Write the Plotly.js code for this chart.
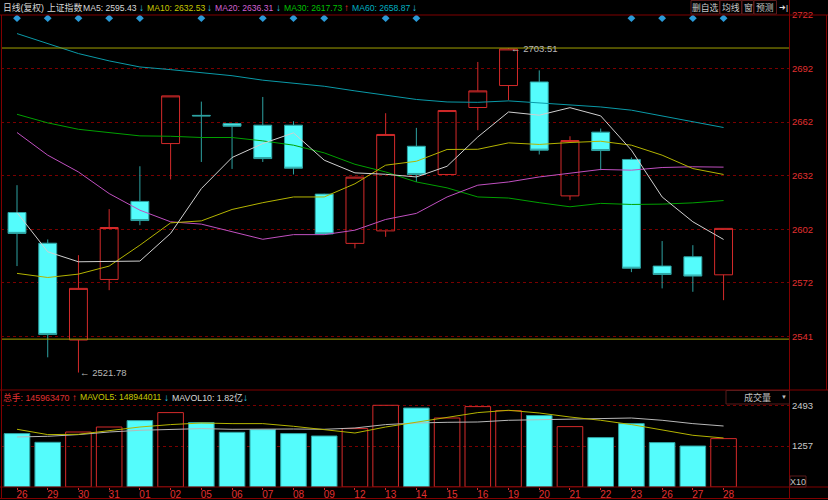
<!DOCTYPE html>
<html>
<head>
<meta charset="utf-8">
<script src="https://cdn.plot.ly/plotly-3.0.1.min.js"></script>
<style>
html,body{margin:0;padding:0;background:#000;}
#chart{width:828px;height:500px;}
</style>
</head>
<body>
<div id="chart"></div>
<script>
// ---------- data ----------
const dates = ['26','29','30','31','01','02','05','06','07','08','09','12','13','14','15','16','19','20','21','22','23','26','27','28'];
const openP  = [2611.4,2594.2,2540.0,2573.9,2617.6,2650.0,2665.8,2661.2,2660.3,2660.3,2621.7,2594.1,2601.1,2648.5,2632.7,2670.2,2682.5,2684.5,2620.7,2656.4,2641.1,2581.4,2586.6,2576.5];
const highP  = [2626.7,2596.3,2587.5,2613.3,2637.3,2676.7,2673.5,2661.2,2676.1,2662.5,2621.9,2631.4,2667.0,2658.8,2668.5,2695.7,2703.51,2691.0,2654.1,2658.4,2642.2,2595.4,2593.1,2602.5];
const lowP   = [2581.4,2530.3,2521.78,2567.9,2604.3,2629.9,2639.7,2635.8,2639.7,2632.7,2599.2,2591.3,2597.8,2628.5,2632.5,2657.5,2674.3,2643.9,2618.3,2635.1,2578.0,2568.9,2567.0,2562.3];
const closeP = [2599.7,2543.1,2568.9,2603.0,2606.9,2676.7,2665.5,2659.7,2641.6,2636.2,2599.4,2631.2,2655.1,2632.7,2668.5,2679.5,2703.0,2646.3,2651.7,2646.1,2580.2,2576.7,2575.8,2602.5];

const ma5  = [2611.4,2589.4,2583.8,2583.8,2584.2,2599.7,2624.8,2642.2,2650.0,2656.0,2640.7,2633.6,2632.8,2631.3,2637.3,2653.7,2667.7,2665.9,2670.1,2665.5,2646.3,2620.1,2606.2,2596.3];
const ma10 = [2577.3,2575.0,2576.9,2581.4,2593.1,2605.6,2606.7,2613.1,2616.9,2620.1,2620.1,2627.5,2637.9,2640.1,2646.7,2646.8,2650.4,2649.5,2650.6,2651.3,2649.1,2643.5,2636.0,2632.7];
const ma20 = [2656.2,2643.5,2634.1,2622.0,2612.7,2606.2,2604.9,2600.8,2596.4,2599.0,2599.0,2601.5,2607.5,2610.9,2620.1,2626.7,2628.5,2631.3,2633.6,2635.5,2635.1,2636.6,2637.0,2636.8];
const ma30 = [2666.4,2661.6,2658.0,2656.0,2654.3,2654.1,2653.4,2653.4,2651.5,2649.1,2644.8,2638.4,2634.1,2628.5,2625.2,2620.1,2619.5,2616.9,2614.6,2616.5,2615.9,2616.1,2616.8,2618.1];
const ma60 = [2711.6,2706.0,2700.4,2696.3,2692.9,2691.4,2689.8,2688.0,2685.5,2683.8,2682.1,2679.5,2677.1,2674.7,2673.3,2673.1,2673.9,2672.8,2671.5,2670.5,2668.7,2665.5,2662.5,2659.0];

const volume  = [1638,1371,1687,1840,2036,2282,1975,1678,1760,1638,1564,1791,2506,2423,2116,2466,2343,2190,1852,1515,1944,1362,1257,1484];
const mavol5  = [1770,1607,1616,1739,1840,1914,1963,1944,1944,1862,1760,1656,1840,1994,2128,2282,2352,2270,2147,2046,1914,1739,1586,1503];
const mavol10 = [1534,1555,1607,1687,1739,1770,1791,1770,1779,1779,1770,1810,1914,1963,1984,1994,2046,2067,2076,2098,2116,2046,1944,1871];

const priceTickVals = [2722,2692,2662,2632,2602,2572,2542];
const priceTickText = ['2722','2692','2662','2632','2602','2572','2541'];
const volTickVals = [1257,2493];
const volTickText = ['1257','2493'];
const refLevels = [2703.51, 2540.5];
const markerIdx = [0,1,2,3,4,6,8,9,10,12,13,20,21,22,23];
const maxIdx = 16, minIdx = 2;
const maLabels = ['MA5: 2595.43','MA10: 2632.53','MA20: 2636.31','MA30: 2617.73','MA60: 2658.87'];
const volLabels = ['总手: 145963470','MAVOL5: 148944011','MAVOL10: 1.82亿'];

// ---------- geometry helpers ----------
const W = 828, H = 500, mL = 1, mR = 39, mT = 15, mB = 13;
const pw = W - mL - mR, ph = H - mT - mB;
const px = x => (x - mL) / pw;
const py = y => (H - mB - y) / ph;
const split = py(390);

const xs = dates.map((d, i) => i);
const RED = '#d42a2a', CYAN = '#54fcfc', CYANLINE = '#2ea2a2', GRID = '#7a0000', BORDER = '#800000';
const FONT = 'Arial, "Liberation Sans", "Noto Sans CJK SC", sans-serif';
const UPARROW = '#ff3030', DNARROW = '#30d0f0';

const up = closeP.map((c, i) => c >= openP[i]);

const traces = [
  {type:'candlestick', x:xs, open:openP, high:highP, low:lowP, close:closeP,
   xaxis:'x', yaxis:'y',
   increasing:{line:{color:RED,width:1}, fillcolor:'rgba(0,0,0,0)'},
   decreasing:{line:{color:CYANLINE,width:1}, fillcolor:CYAN},
   whiskerwidth:0, hoverinfo:'skip', showlegend:false},
  {type:'scatter', mode:'lines', x:xs, y:ma60, line:{color:'#0a9aa8',width:1}, hoverinfo:'skip', showlegend:false},
  {type:'scatter', mode:'lines', x:xs, y:ma30, line:{color:'#00a000',width:1}, hoverinfo:'skip', showlegend:false},
  {type:'scatter', mode:'lines', x:xs, y:ma20, line:{color:'#c050c0',width:1}, hoverinfo:'skip', showlegend:false},
  {type:'scatter', mode:'lines', x:xs, y:ma10, line:{color:'#b4b400',width:1}, hoverinfo:'skip', showlegend:false},
  {type:'scatter', mode:'lines', x:xs, y:ma5,  line:{color:'#d0d0d0',width:1}, hoverinfo:'skip', showlegend:false},
  {type:'scatter', mode:'markers', x:markerIdx, y:markerIdx.map(() => 2720.2),
   marker:{symbol:'diamond', size:6, color:'#2a9ad8'}, hoverinfo:'skip', showlegend:false},
  {type:'bar', x:xs, y:volume, yaxis:'y2', width:0.833,
   marker:{color:up.map(u => u ? 'rgba(0,0,0,0)' : CYAN),
           line:{color:up.map(u => u ? RED : CYANLINE), width:1}},
   hoverinfo:'skip', showlegend:false},
  {type:'scatter', mode:'lines', x:xs, y:mavol10, yaxis:'y2', line:{color:'#b8b8b8',width:1}, hoverinfo:'skip', showlegend:false},
  {type:'scatter', mode:'lines', x:xs, y:mavol5, yaxis:'y2', line:{color:'#b4b400',width:1}, hoverinfo:'skip', showlegend:false}
];

const shapes = [];
refLevels.forEach(v => shapes.push({type:'line', xref:'paper', yref:'y', x0:0, x1:1, y0:v, y1:v, line:{color:'#a0a000',width:1}}));
const hline = (y, x0, x1) => shapes.push({type:'line', xref:'paper', yref:'paper', x0:px(x0), x1:px(x1), y0:py(y), y1:py(y), line:{color:BORDER,width:1}});
const vline = (x, y0, y1) => shapes.push({type:'line', xref:'paper', yref:'paper', x0:px(x), x1:px(x), y0:py(y0), y1:py(y1), line:{color:BORDER,width:1}});
hline(15, 0, 828); hline(390, 0, 828); hline(487, 0, 828); hline(498.5, 0, 828);
vline(1.5, 15, 498); vline(789.5, 0, 498); vline(826.5, 15, 390);
const box = (x0, y0, x1, y1) => shapes.push({type:'rect', xref:'paper', yref:'paper', x0:px(x0), x1:px(x1), y0:py(y1), y1:py(y0), line:{color:'#5a1a1a',width:1}});
box(691,0.5,719.5,14); box(720,0.5,741.5,14); box(742,0.5,753.5,14); box(754,0.5,776.5,14);
box(726,390.5,789.5,404); box(790,476,806,487);

const ann = [];
const txt = (x, y, text, color, size, anchor) => ann.push({xref:'paper', yref:'paper', x:px(x), y:py(y), text:text, showarrow:false,
  xanchor:anchor || 'left', yanchor:'middle', font:{family:FONT, size:size || 9, color:color}});
// header row
txt(1, 8, '日线(复权)', '#d8d8d8', 8.8);
txt(45, 8, '上证指数', '#d8d8d8', 8.8);
txt(81, 8, maLabels[0], '#d8d8d8', 8.6);
txt(137, 8, '↓', DNARROW, 10);
txt(145, 8, maLabels[1], '#c8c800', 8.6);
txt(205, 8, '↓', DNARROW, 10);
txt(213, 8, maLabels[2], '#d060d0', 8.6);
txt(274, 8, '↓', DNARROW, 10);
txt(282, 8, maLabels[3], '#00c000', 8.6);
txt(342, 8, '↑', UPARROW, 10);
txt(350, 8, maLabels[4], '#00b0c0', 8.6);
txt(410, 8, '↓', DNARROW, 10);
// buttons
txt(705, 7.5, '删自选', '#c8c8c8', 8.8, 'center');
txt(731, 7.5, '均线', '#c8c8c8', 8.8, 'center');
txt(748, 7.5, '窗', '#c8c8c8', 8.8, 'center');
txt(765, 7.5, '预测', '#c8c8c8', 8.8, 'center');
txt(783, 7.5, '➜|', '#e0e0e0', 8, 'center');
// volume header
txt(1, 397, volLabels[0], '#e03030', 8.8);
txt(70, 397, '↑', UPARROW, 10);
txt(78, 397, volLabels[1], '#c8c800', 8.6);
txt(162, 397, '↓', DNARROW, 10);
txt(170, 397, volLabels[2], '#d8d8d8', 8.8);
txt(241, 397, '↓', DNARROW, 10);
txt(757, 397, '成交量', '#c0c0c0', 9, 'center');
txt(784, 397, '▼', '#c0c0c0', 6, 'center');
txt(798, 482, 'X10', '#c0c0c0', 9, 'center');
// extremes
ann.push({xref:'x', yref:'y', x:maxIdx, y:highP[maxIdx], text:'← ' + highP[maxIdx].toFixed(2), showarrow:false,
  xanchor:'left', yanchor:'middle', font:{family:FONT, size:9.5, color:'#b8b8b8'}});
ann.push({xref:'x', yref:'y', x:minIdx, y:lowP[minIdx], text:'← ' + lowP[minIdx].toFixed(2), showarrow:false,
  xanchor:'left', yanchor:'middle', font:{family:FONT, size:9.5, color:'#b8b8b8'}});

const layout = {
  width:W, height:H, margin:{l:mL, r:mR, t:mT, b:mB, pad:0},
  paper_bgcolor:'#000', plot_bgcolor:'#000', showlegend:false, boxgap:0.167, bargap:0.167,
  xaxis:{range:[-0.521, 25.13], anchor:'y2', tickvals:xs, ticktext:dates, showgrid:false, zeroline:false,
    showline:false, ticks:'outside', ticklen:2, tickcolor:RED, tickfont:{family:FONT, size:10, color:'#e03030'},
    ticklabelshift:5, ticklabelstandoff:-4, rangeslider:{visible:false}, fixedrange:true},
  yaxis:{domain:[split, 1], range:[2512, 2722], side:'right', tickvals:priceTickVals, ticktext:priceTickText,
    tickfont:{family:FONT, size:9.5, color:'#e03030'}, gridcolor:GRID, griddash:'dot', gridwidth:1,
    zeroline:false, showline:false, ticks:'', ticklabelstandoff:2},
  yaxis2:{domain:[0, split], range:[0, 2975], side:'right', tickvals:volTickVals, ticktext:volTickText,
    tickfont:{family:FONT, size:9.5, color:'#c8c8c8'}, gridcolor:GRID, griddash:'dot', gridwidth:1,
    zeroline:false, showline:false, ticks:'', ticklabelstandoff:2},
  shapes:shapes, annotations:ann
};
Plotly.newPlot('chart', traces, layout, {staticPlot:true, displayModeBar:false});
</script>
</body>
</html>
